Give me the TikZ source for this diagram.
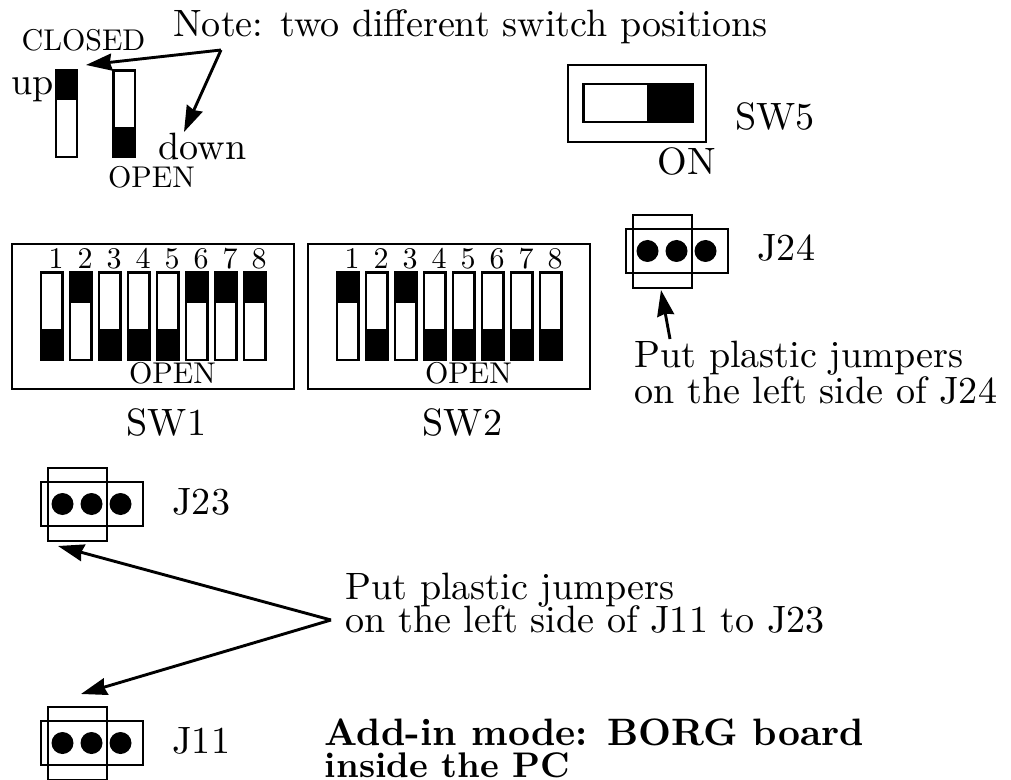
\documentclass[tikz,border=0pt]{standalone}
\usetikzlibrary{arrows.meta}
\font\bigrm="[lmroman10-regular]:mapping=tex-text" at 19.05pt
\font\midrm="[lmroman10-regular]:mapping=tex-text" at 15pt
\font\bigbf="[lmroman10-bold]:mapping=tex-text" at 19.1pt
\font\lowbf="[lmroman10-bold]:mapping=tex-text" at 17.8pt
\tikzset{
  pen/.style={line width=1.45pt},
  thinpen/.style={line width=1.25pt},
  lab/.style={inner sep=0pt,font=\bigrm,anchor=base west},
  smalllab/.style={inner sep=0pt,font=\midrm,anchor=base},
  pointer/.style={line width=1.45pt,-{Stealth[length=13pt,width=8.5pt,inset=1pt]}}
}
\begin{document}
\begin{tikzpicture}[x=0.5pt,y=-0.5pt]
    \useasboundingbox (0,0) rectangle (1011,780);
    % the two single switches
    \fill (55,70) rectangle (78,100);
    \draw[pen] (56,70.5) rectangle (77,157);
    \fill (112.5,127) rectangle (136,158);
    \draw[pen] (113.5,70.5) rectangle (135,157);
    \node[smalllab] (closed) at (83.5,51) {CLOSED};
    \node[lab] (up) at (11,95) {up};
    \node[lab] (down) at (158,160) {down};
    \node[smalllab] (open) at (151.5,188) {OPEN};
    % note and its two arrows
    \node[lab] (note) at (173,37) {Note: two different switch positions};
    \coordinate (noteapex) at (221,50);
    \coordinate (uptip) at (86,65);
    \coordinate (downtip) at (184,132);
    \draw[pointer] (noteapex) -- (uptip);
    \draw[pointer] (noteapex) -- (downtip);
    % SW5
    \draw[pen] (568,65) rectangle (706,142);
    \fill (647,83) rectangle (693.5,122.5);
    \draw[pen] (583.5,84) rectangle (693,122);
    \node[lab] (onlab) at (657,175) {ON};
    \node[lab] (sw5) at (735,130) {SW5};
    % SW1 and SW2
    \draw[pen] (12,244) rectangle (294,389);
    \draw[pen] (308,244) rectangle (590,389);
    \foreach \i/\p in {1/0,2/1,3/0,4/0,5/0,6/1,7/1,8/1}{
      \pgfmathsetmacro\xa{40+29*(\i-1)}
      \ifnum\p=1
        \fill (\xa,272) rectangle ++(23.5,31);
      \else
        \fill (\xa,329) rectangle ++(23.5,31.5);
      \fi
      \draw[pen] (\xa+1,272.5) rectangle ++(21.5,87.5);
      \node[smalllab] (swa\i) at (\xa+16,269) {\i};}
    \foreach \i/\p in {1/1,2/0,3/1,4/0,5/0,6/0,7/0,8/0}{
      \pgfmathsetmacro\xa{336+29*(\i-1)}
      \ifnum\p=1
        \fill (\xa,272) rectangle ++(23.5,31);
      \else
        \fill (\xa,329) rectangle ++(23.5,31.5);
      \fi
      \draw[pen] (\xa+1,272.5) rectangle ++(21.5,87.5);
      \node[smalllab] (swb\i) at (\xa+16,269) {\i};}
    \node[smalllab] (opena) at (172.5,384) {OPEN};
    \node[smalllab] (openb) at (468.5,384) {OPEN};
    \node[lab,anchor=base] (swone) at (166.5,435) {SW1};
    \node[lab,anchor=base] (swtwo) at (462.5,435) {SW2};
    % jumper blocks
    \foreach \name/\xa/\ya in {J24/626/229,J23/41/482,J11/41/721}{
      \draw[thinpen] (\xa,\ya) rectangle ++(102,44);
      \draw[thinpen] (\xa+7,\ya-14) rectangle ++(59,73);
      \foreach \k in {0,1,2}
        \fill (\xa+21.5+29*\k,\ya+22) circle (11);
      \node[lab] (\name) at (\xa+131,\ya+32) {\name};}
    % jumper notes
    \node[lab] (jnote) at (634,368) {Put plastic jumpers};
    \node[lab] (jnotb) at (634,403) {on the left side of J24};
    \coordinate (jtail) at (670,339);
    \coordinate (jtip) at (661,290);
    \draw[pointer] (jtail) -- (jtip);
    \node[lab] (mnote) at (345,599) {Put plastic jumpers};
    \node[lab] (mnotb) at (345,632) {on the left side of J11 to J23};
    \coordinate (mapex) at (331,620);
    \coordinate (mtipa) at (58,546);
    \coordinate (mtipb) at (81,694);
    \draw[pointer] (mapex) -- (mtipa);
    \draw[pointer] (mapex) -- (mtipb);
    % mode line
    \node[lab,font=\bigbf] (modea) at (324.5,745) {Add-in mode: BORG board};
    \node[lab,font=\lowbf] (modeb) at (324.5,777) {inside the PC};
\end{tikzpicture}
\end{document}
